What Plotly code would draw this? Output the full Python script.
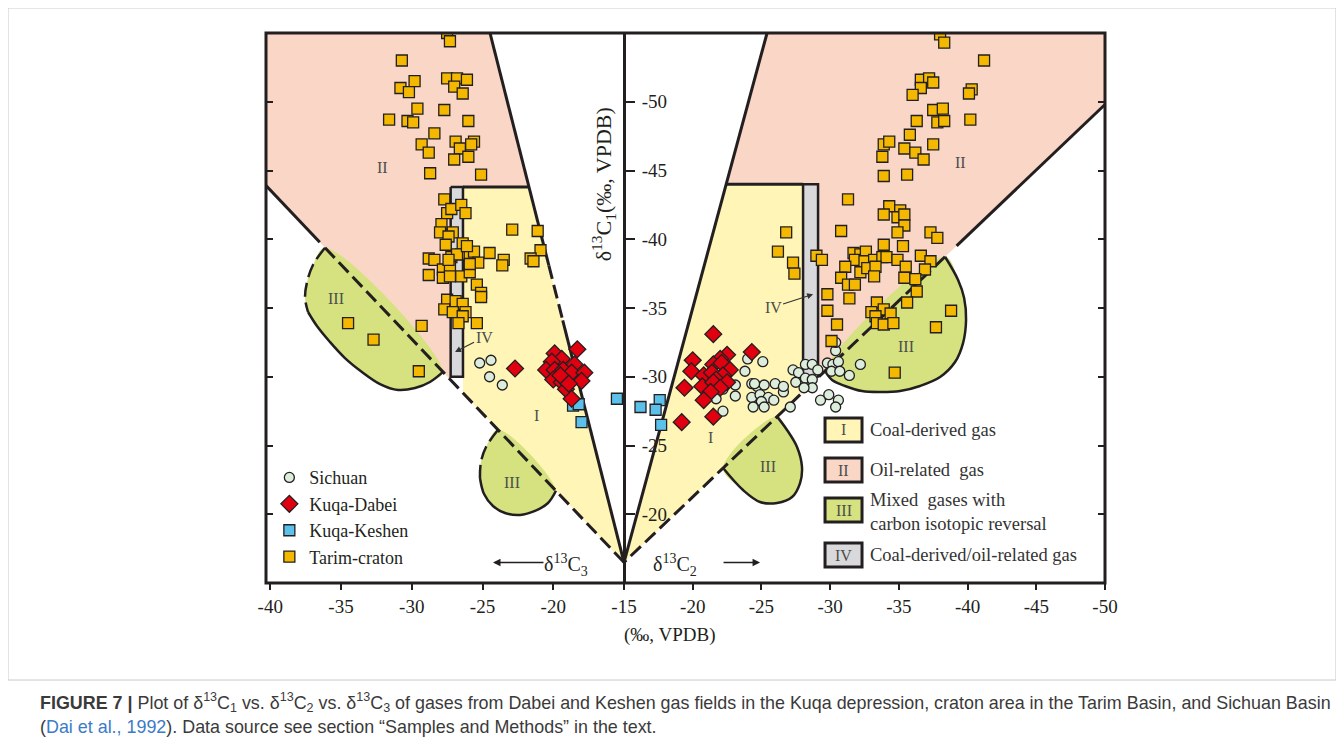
import plotly.graph_objects as go

# ---------------- data ----------------
# Left panel: x = delta13C3, right panel: x = delta13C2, y = delta13C1 (permil, VPDB)
tarim_c3 = [-27.5, -27.3, -30.7, -29.8, -30.8, -30.2, -27.5, -26.8, -26.1, -27.0, -26.4, -29.6, -27.7, -31.6,
            -30.3, -29.9, -26.0, -28.4, -29.3, -28.8, -26.9, -25.6, -25.8, -26.6, -27.0, -26.0, -28.7, -25.1,
            -27.7, -27.5, -27.2, -26.5, -26.2, -27.9, -28.0, -27.1, -27.4, -27.6, -26.4, -22.9, -21.1, -20.9,
            -28.8, -28.4, -27.2, -26.5, -25.9, -25.6, -24.5, -25.3, -23.5, -23.6, -21.6, -21.4, -28.8, -27.8,
            -27.3, -27.8, -27.3, -26.5, -25.9, -25.4, -25.1, -25.1, -27.5, -26.9, -26.4, -27.7, -27.1, -26.2,
            -26.4, -26.7, -25.4, -29.3, -34.5, -32.7, -29.5, -26.8, -26.1, -27.4, -25.9]
tarim_c1_left = [-55.0, -54.4, -53.0, -51.5, -51.0, -50.7, -51.7, -51.7, -51.6, -51.1, -50.6, -49.5, -49.4, -48.7,
                 -48.6, -48.5, -48.6, -47.7, -46.9, -46.3, -47.1, -47.1, -46.9, -46.6, -45.8, -46.0, -44.8, -44.7,
                 -42.9, -41.9, -42.2, -42.5, -41.9, -41.1, -40.5, -40.5, -40.2, -39.6, -39.7, -40.7, -40.6, -39.2,
                 -38.6, -38.5, -38.7, -38.9, -38.8, -39.1, -39.0, -38.3, -38.5, -38.1, -38.6, -38.4, -37.4, -37.8,
                 -38.0, -37.2, -37.3, -37.3, -37.6, -36.7, -36.1, -35.8, -35.6, -35.5, -35.3, -34.9, -34.7, -34.7,
                 -34.4, -33.9, -33.9, -33.7, -33.9, -32.7, -30.4, -38.9, -39.5, -38.5, -38.2]

tarim_c2 = [-38.0, -38.3, -41.2, -36.6, -37.2, -37.5, -36.6, -36.0, -40.3, -40.1, -37.5, -38.2, -36.3, -37.8,
            -38.3, -40.2, -35.8, -33.9, -34.3, -35.4, -36.2, -36.8, -37.5, -33.8, -33.9, -35.6, -31.3, -34.3,
            -33.9, -35.1, -34.9, -35.4, -35.4, -34.9, -30.8, -26.8, -37.3, -37.8, -26.2, -27.3, -27.4, -29.0,
            -29.4, -33.9, -35.3, -31.7, -32.2, -32.6, -31.8, -32.5, -33.2, -33.8, -34.1, -34.9, -36.6, -37.3,
            -31.1, -32.2, -32.7, -33.3, -33.2, -35.5, -36.9, -35.4, -36.2, -30.8, -31.3, -31.8, -29.8, -31.4,
            -36.3, -35.6, -33.4, -33.0, -33.9, -34.4, -33.3, -33.4, -33.9, -34.6, -29.8, -30.5, -38.8, -37.7,
            -30.1, -34.7]
tarim_c1_right = [-54.9, -54.3, -53.0, -51.6, -51.7, -51.4, -51.0, -50.5, -50.9, -50.6, -49.4, -49.5, -48.6, -48.5,
                  -48.6, -48.7, -47.6, -46.9, -47.1, -46.6, -46.3, -45.8, -46.9, -46.0, -44.6, -44.7, -42.9, -42.4,
                  -41.8, -42.1, -41.6, -41.8, -41.0, -40.5, -40.6, -40.5, -40.5, -40.1, -39.1, -38.3, -37.5, -38.8,
                  -38.5, -39.6, -39.5, -39.0, -38.9, -39.1, -38.5, -38.4, -38.5, -38.7, -38.7, -38.5, -38.8, -38.4,
                  -38.0, -37.6, -37.9, -38.0, -37.3, -38.0, -37.8, -37.2, -37.1, -37.2, -36.7, -36.7, -36.0, -35.7,
                  -36.2, -35.4, -35.4, -34.7, -34.9, -34.6, -34.4, -33.9, -33.8, -33.9, -34.8, -33.8, -34.8, -33.6,
                  -32.6, -30.3]

sichuan_c3 = [-25.2, -24.4, -24.5, -23.6]
sichuan_c1_left = [-31.0, -31.2, -30.0, -29.4]
sichuan_c2 = [-24.0, -25.1, -23.8, -23.1, -23.1, -22.2, -21.7, -22.2, -24.3, -24.7, -25.2, -26.0, -26.6, -24.3,
              -24.9, -25.5, -25.9, -25.0, -24.4, -25.2, -27.1, -27.3, -27.7, -27.5, -28.2, -28.7, -29.1, -28.2,
              -28.7, -28.7, -28.1, -29.3, -29.9, -30.6, -30.4, -29.8, -30.2, -30.6, -30.1, -30.7, -31.4, -32.2,
              -30.4, -30.4, -24.5, -26.6]
sichuan_c1_right = [-31.3, -31.1, -30.4, -29.4, -28.6, -29.1, -28.4, -27.5, -29.5, -29.3, -29.4, -29.5, -28.9, -28.5,
                    -28.7, -28.5, -28.3, -28.2, -27.8, -27.8, -27.8, -30.5, -30.3, -29.6, -30.9, -30.9, -30.5, -29.9,
                    -29.8, -29.2, -29.2, -28.3, -28.7, -28.3, -27.8, -31.0, -30.9, -31.1, -30.4, -30.4, -30.1, -30.9,
                    -31.9, -32.5, -29.5, -29.3]

dabei_c3 = [-22.7, -18.3, -19.9, -19.4, -20.1, -18.5, -20.5, -19.9, -19.3, -18.7, -17.8, -20.0, -19.4, -18.0,
            -19.1, -18.7, -19.5, -18.9]
dabei_c1_left = [-30.6, -32.0, -31.7, -31.3, -31.1, -30.9, -30.5, -30.5, -30.5, -30.3, -30.3, -29.8, -29.6, -29.7,
                 -29.1, -28.4, -30.1, -29.5]
dabei_c2 = [-21.5, -24.3, -20.0, -19.9, -22.5, -22.0, -21.5, -22.1, -22.7, -20.8, -21.4, -22.2, -21.7, -22.5,
            -20.7, -21.5, -22.0, -19.4, -21.3, -20.8, -21.5, -19.2]
dabei_c1_right = [-33.1, -31.8, -31.2, -30.4, -31.6, -31.3, -30.9, -31.0, -30.5, -30.1, -30.3, -30.1, -29.8, -29.6,
                  -29.3, -29.6, -29.2, -29.2, -28.9, -28.3, -27.1, -26.7]

keshen_c3 = [-18.6, -18.2, -18.0, -15.5]
keshen_c1_left = [-27.9, -28.0, -26.7, -28.4]
keshen_c2 = [-16.2, -17.6, -17.3, -17.7]
keshen_c1_right = [-27.8, -28.3, -27.6, -26.5]

# axis ticks
left_ticks = [-40, -35, -30, -25, -20, -15]
right_ticks = [-20, -25, -30, -35, -40, -45, -50]
c1_ticks = [-50, -45, -40, -35, -30, -25, -20]

# ---------------- genetic-diagram boundaries (data coordinates) ----------------
TOP = -55.0
APEX_C1 = -16.5
A_TOP_C3 = -24.47           # left boundary (coal / oil) top point
B_LEFT = (-40.3, -43.9)     # lower boundary of oil field on left border
C_TOP_C2 = -25.41           # right panel upper-left line top point
D_RIGHT = (-50.0, -49.8)    # right panel line at right border
BOX_TOP_L = -43.8
BOX_TOP_R = -44.0
BAR_L = (-27.25, -26.38)    # grey bar IV on the left (C3)
BAR_R = (-28.03, -29.12)    # grey bar IV on the right (C2)
BAR_L_BOTTOM = -30.0

lobe_L_up = [(-36.98, -38.13), (-37.40, -36.89), (-37.54, -35.73), (-37.33, -34.71), (-36.70, -33.69),
             (-35.78, -32.53), (-34.72, -31.36), (-33.52, -30.35), (-32.24, -29.47), (-30.97, -29.04),
             (-29.77, -29.18), (-28.71, -29.62)]
lobe_L_up_ends = (-36.13, -27.79)
lobe_L_low = [(-24.75, -24.89), (-25.11, -23.80), (-25.18, -22.64), (-24.89, -21.47), (-24.26, -20.60),
              (-23.41, -20.09), (-22.35, -19.95), (-21.29, -20.24), (-20.37, -20.82)]
lobe_L_low_ends = (-23.90, -19.81)
lobe_R_up = [(-30.14, -29.76), (-31.08, -29.33), (-32.32, -28.96), (-33.63, -28.89), (-35.09, -28.96),
             (-36.54, -29.33), (-38.0, -29.98), (-39.09, -31.07), (-39.67, -32.45), (-39.89, -34.13),
             (-39.75, -35.73), (-39.31, -37.04)]
lobe_R_up_ends = (-29.63, -38.36)
lobe_R_low = [(-26.86, -26.13), (-27.59, -24.89), (-27.95, -23.44), (-27.81, -22.27), (-27.23, -21.25),
              (-26.14, -20.82), (-24.90, -20.89), (-23.66, -21.76)]
lobe_R_low_ends = (-26.14, -22.21)

INK = "#231F20"
YELLOW = "#FFF5B6"
PINK = "#F9D6C6"
GREEN = "#D5E27F"
GREY = "#D9D9DB"
SERIF = "Liberation Serif, Times New Roman, serif"


def lineA(c1):
    return A_TOP_C3 + (c1 - TOP) / (APEX_C1 - TOP) * (-15 - A_TOP_C3)


def lineB(c3):
    return APEX_C1 + (B_LEFT[1] - APEX_C1) / (B_LEFT[0] + 15) * (c3 + 15)


def lineC(c1):
    return C_TOP_C2 + (c1 - TOP) / (APEX_C1 - TOP) * (-15 - C_TOP_C2)


def lineD(c2):
    return APEX_C1 + (D_RIGHT[1] - APEX_C1) / (D_RIGHT[0] + 15) * (c2 + 15)


fig = go.Figure()


def poly(pts, color, xa, shape="linear"):
    xs = [p[0] for p in pts] + [pts[0][0]]
    ys = [p[1] for p in pts] + [pts[0][1]]
    fig.add_trace(go.Scatter(x=xs, y=ys, mode="lines", fill="toself", fillcolor=color,
                             line=dict(width=0, shape=shape), xaxis=xa, yaxis="y",
                             hoverinfo="skip", showlegend=False))


def seg(pts, xa, dash="solid", width=3, shape="linear"):
    fig.add_trace(go.Scatter(x=[p[0] for p in pts], y=[p[1] for p in pts], mode="lines",
                             line=dict(color=INK, width=width, dash=dash, shape=shape), xaxis=xa, yaxis="y",
                             hoverinfo="skip", showlegend=False))


DASH = "14px,6px"

# ----- left panel regions -----
poly([(B_LEFT[0], TOP), (A_TOP_C3, TOP), (lineA(BOX_TOP_L), BOX_TOP_L), (BAR_L[0], BOX_TOP_L),
      (BAR_L[0], lineB(BAR_L[0])), B_LEFT], PINK, "x")
poly([(BAR_L[1], BOX_TOP_L), (lineA(BOX_TOP_L), BOX_TOP_L), (-15, APEX_C1), (BAR_L[1], lineB(BAR_L[1]))],
     YELLOW, "x")
poly([(BAR_L[0], BOX_TOP_L), (BAR_L[1], BOX_TOP_L), (BAR_L[1], BAR_L_BOTTOM), (BAR_L[0], BAR_L_BOTTOM)], GREY, "x")
lu = [(lobe_L_up_ends[0], lineB(lobe_L_up_ends[0]))] + lobe_L_up + [(lobe_L_up_ends[1], lineB(lobe_L_up_ends[1]))]
poly(lu, GREEN, "x", "spline")
ll = [(lobe_L_low_ends[0], lineB(lobe_L_low_ends[0]))] + lobe_L_low + [(lobe_L_low_ends[1], lineB(lobe_L_low_ends[1]))]
poly(ll, GREEN, "x", "spline")

# ----- right panel regions -----
poly([(C_TOP_C2, TOP), (D_RIGHT[0], TOP), D_RIGHT, (BAR_R[1], lineD(BAR_R[1])), (BAR_R[1], BOX_TOP_R),
      (lineC(BOX_TOP_R), BOX_TOP_R)], PINK, "x2")
poly([(-15, APEX_C1), (lineC(BOX_TOP_R), BOX_TOP_R), (BAR_R[0], BOX_TOP_R), (BAR_R[0], lineD(BAR_R[0]))],
     YELLOW, "x2")
poly([(BAR_R[0], BOX_TOP_R), (BAR_R[1], BOX_TOP_R), (BAR_R[1], lineD(BAR_R[1])), (BAR_R[0], lineD(BAR_R[0]))],
     GREY, "x2")
ru = [(lobe_R_up_ends[0], lineD(lobe_R_up_ends[0]))] + lobe_R_up + [(lobe_R_up_ends[1], lineD(lobe_R_up_ends[1]))]
poly(ru, GREEN, "x2", "spline")
rl = [(lobe_R_low_ends[0], lineD(lobe_R_low_ends[0]))] + lobe_R_low + [(lobe_R_low_ends[1], lineD(lobe_R_low_ends[1]))]
poly(rl, GREEN, "x2", "spline")

# ----- left boundary lines -----
seg([(A_TOP_C3, TOP), (lineA(-38.1), -38.1)], "x")
seg([(lineA(-38.1), -38.1), (lineA(-34.1), -34.1)], "x", DASH)
seg([(lineA(-34.1), -34.1), (-15, APEX_C1)], "x")
seg([(BAR_L[1], BOX_TOP_L), (lineA(BOX_TOP_L), BOX_TOP_L)], "x")
seg([(BAR_L[0], BOX_TOP_L), (BAR_L[1], BOX_TOP_L), (BAR_L[1], BAR_L_BOTTOM), (BAR_L[0], BAR_L_BOTTOM),
     (BAR_L[0], BOX_TOP_L)], "x", width=2.5)
seg([B_LEFT, (-36.5, lineB(-36.5))], "x")
seg([(lobe_L_up_ends[0], lineB(lobe_L_up_ends[0])), (-15, APEX_C1)], "x", DASH)
seg(lu[:5], "x", DASH, 2.5, "spline")
seg(lu[4:], "x", "solid", 2.5, "spline")
seg(ll[:4], "x", DASH, 2.5, "spline")
seg(ll[3:], "x", "solid", 2.5, "spline")

# ----- right boundary lines -----
seg([(C_TOP_C2, TOP), (-15, APEX_C1)], "x2")
seg([(lineC(BOX_TOP_R), BOX_TOP_R), (BAR_R[0], BOX_TOP_R)], "x2")
seg([(BAR_R[0], lineD(BAR_R[0])), (BAR_R[0], BOX_TOP_R), (BAR_R[1], BOX_TOP_R), (BAR_R[1], lineD(BAR_R[1]))],
    "x2", width=2.5)
seg([D_RIGHT, (-39.2, lineD(-39.2))], "x2")
seg([(lobe_R_up_ends[1], lineD(lobe_R_up_ends[1])), (-15, APEX_C1)], "x2", DASH)
seg(ru, "x2", "solid", 2.5, "spline")
seg(rl, "x2", "solid", 2.5, "spline")

# ----- samples -----
edge = dict(color=INK, width=1.3)


def pts(x, y, xa, name, symbol, size, color, rank, show):
    fig.add_trace(go.Scatter(x=x, y=y, mode="markers", xaxis=xa, yaxis="y", name=name,
                             legendgroup=name, showlegend=show, legendrank=rank,
                             marker=dict(symbol=symbol, size=size, color=color, line=edge)))


SICH = "#DCEDDC"
TARIM = "#F5B800"
KESH = "#5BC0EA"
DAB = "#E1000F"
pts(sichuan_c3, sichuan_c1_left, "x", "Sichuan", "circle", 10, SICH, 1, True)
pts(sichuan_c2, sichuan_c1_right, "x2", "Sichuan", "circle", 10, SICH, 1, False)
pts(tarim_c3, tarim_c1_left, "x", "Tarim-craton", "square", 11, TARIM, 4, True)
pts(tarim_c2, tarim_c1_right, "x2", "Tarim-craton", "square", 11, TARIM, 4, False)
pts(keshen_c3, keshen_c1_left, "x", "Kuqa-Keshen", "square", 11, KESH, 3, True)
pts(keshen_c2, keshen_c1_right, "x2", "Kuqa-Keshen", "square", 11, KESH, 3, False)
pts(dabei_c3, dabei_c1_left, "x", "Kuqa-Dabei", "diamond", 13, DAB, 2, True)
pts(dabei_c2, dabei_c1_right, "x2", "Kuqa-Dabei", "diamond", 13, DAB, 2, False)

# invisible anchors so the centre and right-hand y axes are drawn
for ya in ("y2", "y3"):
    fig.add_trace(go.Scatter(x=[None], y=[None], xaxis="x2", yaxis=ya, mode="markers",
                             showlegend=False, hoverinfo="skip"))

# ----- axes -----
SPLIT = 0.4267
tickfont = dict(family=SERIF, size=19, color=INK)
common_x = dict(showgrid=False, zeroline=False, showline=False, ticks="outside", ticklen=6, tickwidth=2,
                tickcolor=INK, tickfont=tickfont, anchor="y", ticklabelstandoff=0)
fig.update_layout(
    xaxis=dict(domain=[0, SPLIT], range=[-40.3, -15], tickvals=left_ticks,
               ticktext=[str(v) for v in left_ticks], **common_x),
    xaxis2=dict(domain=[SPLIT, 1], range=[-15, -50], tickvals=right_ticks,
                ticktext=[str(v) for v in right_ticks], **common_x),
    yaxis=dict(range=[-15, -55], tickvals=c1_ticks, ticks="inside", ticklen=7, tickwidth=2, tickcolor=INK,
               showticklabels=False, showgrid=False, zeroline=False, showline=False, anchor="x"),
    yaxis2=dict(range=[-15, -55], tickvals=c1_ticks, ticktext=[str(v) for v in c1_ticks], overlaying="y",
                anchor="free", position=SPLIT, side="right", ticks="outside", ticklen=9, tickwidth=2,
                tickcolor=INK, showline=True, linewidth=3, linecolor=INK, tickfont=tickfont,
                showgrid=False, zeroline=False, ticklabelstandoff=3),
    yaxis3=dict(range=[-15, -55], tickvals=c1_ticks, overlaying="y", anchor="free", position=1, side="right",
                ticks="inside", ticklen=7, tickwidth=2, tickcolor=INK, showticklabels=False,
                showgrid=False, zeroline=False, showline=False),
)

shapes = [
    dict(type="rect", xref="paper", yref="paper", x0=0, x1=1, y0=0, y1=1,
         line=dict(color=INK, width=3), layer="above"),
    dict(type="rect", xref="paper", yref="paper", x0=-0.3075, x1=1.2753, y0=-0.1764, y1=1.0455,
         line=dict(color="#C9C9C9", width=1), layer="below"),
]
# region legend boxes
box_x0, box_x1 = 0.6663, 0.7104
boxes = [(0.2564, 0.3, YELLOW, "I"), (0.1836, 0.2273, PINK, "II"), (0.1109, 0.1545, GREEN, "III"),
         (0.0291, 0.0727, GREY, "IV")]
ann = []
C = dict(xanchor="center", yanchor="middle")
for y0, y1, col, lab in boxes:
    shapes.append(dict(type="rect", xref="paper", yref="paper", x0=box_x0, x1=box_x1, y0=y0, y1=y1,
                       fillcolor=col, line=dict(color=INK, width=3), layer="above"))
    ann.append(dict(xref="paper", yref="paper", x=(box_x0 + box_x1) / 2, y=(y0 + y1) / 2, text=lab,
                    showarrow=False, font=dict(family=SERIF, size=16, color="#4D4D4D"), **C))

legend_texts = [(0.2782, "Coal-derived gas"), (0.2055, "Oil-related  gas"),
                (0.130, "Mixed  gases with<br>carbon isotopic reversal"), (0.0509, "Coal-derived/oil-related gas")]
for y, t in legend_texts:
    ann.append(dict(xref="paper", yref="paper", x=0.7175, y=y, text=t, showarrow=False, xanchor="left",
                    yanchor="middle", align="left", font=dict(family=SERIF, size=18.5, color="#333333")))

# roman numerals in the diagram
numf = dict(family=SERIF, size=16, color="#4D4D4D")
for xa, x, y, t in [("x", -32.1, -45.2, "II"), ("x", -35.35, -35.7, "III"), ("x", -22.94, -22.3, "III"),
                    ("x", -21.17, -27.2, "I"), ("x2", -39.45, -45.6, "II"), ("x2", -21.26, -25.6, "I"),
                    ("x2", -35.52, -32.2, "III"), ("x2", -25.5, -23.5, "III")]:
    ann.append(dict(xref=xa, yref="y", x=x, y=y, text=t, showarrow=False, font=numf, **C))

# IV arrows
ann.append(dict(xref="x", yref="y", x=-26.94, y=-31.8, ax=29, ay=-15, text="IV", showarrow=True,
                arrowhead=2, arrowsize=1, arrowwidth=1.2, arrowcolor="#333333", font=numf))
ann.append(dict(xref="x2", yref="y", x=-28.76, y=-36.0, ax=-40, ay=13, text="IV", showarrow=True,
                arrowhead=2, arrowsize=1, arrowwidth=1.2, arrowcolor="#333333", font=numf))

# direction arrows at the bottom
ann.append(dict(xref="x", yref="y", x=-24.26, y=-16.5, ax=52, ay=0, text="", showarrow=True,
                arrowhead=2, arrowsize=1, arrowwidth=1.5, arrowcolor=INK))
ann.append(dict(xref="x", yref="y", x=-19.1, y=-16.3, text="δ<sup>13</sup>C<sub>3</sub>", showarrow=False,
                font=dict(family=SERIF, size=20, color=INK), **C))
ann.append(dict(xref="x2", yref="y", x=-24.9, y=-16.5, ax=-38, ay=0, text="", showarrow=True,
                arrowhead=2, arrowsize=1, arrowwidth=1.5, arrowcolor=INK))
ann.append(dict(xref="x2", yref="y", x=-18.7, y=-16.3, text="δ<sup>13</sup>C<sub>2</sub>", showarrow=False,
                font=dict(family=SERIF, size=20, color=INK), **C))

# axis titles
ann.append(dict(xref="paper", yref="paper", x=0.4017, y=0.725, textangle=-90,
                text="δ<sup>13</sup>C<sub>1</sub>(‰, VPDB)", showarrow=False,
                font=dict(family=SERIF, size=22, color=INK), **C))
ann.append(dict(xref="paper", yref="paper", x=0.4815, y=-0.0945, text="(‰, VPDB)", showarrow=False,
                font=dict(family=SERIF, size=19, color=INK), **C))

# caption
CAP = "Liberation Sans, Arial, sans-serif"
ann.append(dict(xref="paper", yref="paper", x=-0.2718, y=-0.218, xanchor="left", yanchor="middle",
                text="<b>FIGURE 7 |</b> Plot of δ<sup>13</sup>C<sub>1</sub> vs. δ<sup>13</sup>C<sub>2</sub> vs. "
                     "δ<sup>13</sup>C<sub>3</sub> of gases from Dabei and Keshen gas fields in the Kuqa depression, "
                     "craton area in the Tarim Basin, and Sichuan Basin",
                showarrow=False, font=dict(family=CAP, size=17.9, color="#3A3A3A")))
ann.append(dict(xref="paper", yref="paper", x=-0.2718, y=-0.2618, xanchor="left", yanchor="middle",
                text="(<span style='color:#3B7BC8'>Dai et al., 1992</span>). Data source see section "
                     "“Samples and Methods” in the text.",
                showarrow=False, font=dict(family=CAP, size=17.9, color="#3A3A3A")))

# the page adds an 8px body margin, so the figure is 8px smaller and margins shifted accordingly
fig.update_layout(
    width=1336, height=734,
    margin=dict(l=258, r=239, t=25, b=159),
    paper_bgcolor="white", plot_bgcolor="white",
    shapes=shapes, annotations=ann,
    legend=dict(x=0.004, y=0.225, xanchor="left", yanchor="top", bgcolor="rgba(0,0,0,0)",
                font=dict(family=SERIF, size=18, color=INK), itemwidth=30, tracegroupgap=0),
    showlegend=True,
)

fig.write_html("out.html")
